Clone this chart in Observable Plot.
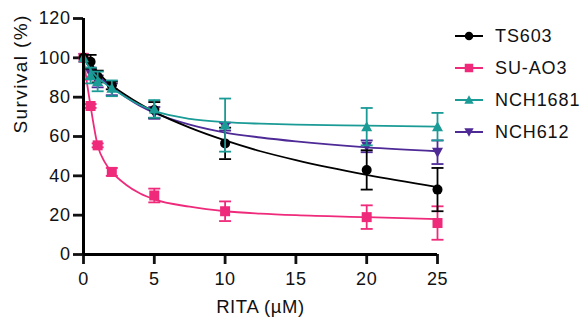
<!DOCTYPE html>
<html><head><meta charset="utf-8">
<script src="https://cdn.jsdelivr.net/npm/d3@7"></script>
<script src="https://cdn.jsdelivr.net/npm/@observablehq/plot@0.6"></script>
<style>
body{margin:0;background:#fff;font-family:"Liberation Sans",Arial,sans-serif}
#wrap{position:relative;width:579px;height:320px}
#legend{position:absolute;left:455px;top:20px}
.item{display:flex;align-items:center;height:32px;font-size:18px;letter-spacing:0.9px;color:#111}
.item svg{margin-right:12px}
</style></head><body><div id="wrap"><div id="legend"></div></div>
<script>
// doses (µM)
const doses = [0, 0.5, 1, 2, 5, 10, 20, 25];
const seriesNames = ["TS603", "SU-AO3", "NCH1681", "NCH612"];
const colors = ["#000000", "#ef2a7b", "#1b9b96", "#4e2a97"];
const symbolsName = ["circle", "square", "triangle", "triangleDown"];

// mean survival (%)
const meanTS603   = [100, 98, 90.5, 86, 73.5, 56.5, 43, 33];
const meanSUAO3   = [100, 75.5, 55.5, 42, 30, 22, 19, 16];
const meanNCH1681 = [100, 91, 88, 84.5, 74, 65.8, 65, 65];
const meanNCH612  = [100, 92, 88, 84, 72, 65, 55, 52];
// error (± SD)
const errTS603   = [0, 3.5, 3, 2, 4, 8, 10, 11];
const errSUAO3   = [0, 1, 1, 2, 3.5, 5, 6, 8.5];
const errNCH1681 = [0, 4, 5, 4, 4.5, 13.5, 9.5, 7];
const errNCH612  = [0, 3, 3, 3, 3, 2, 3, 6];

// fitted curves
const fitDoses   = [0, 0.25, 0.5, 1, 1.5, 2, 3, 4, 5, 7.5, 10, 12.5, 15, 20, 25];
const fitTS603   = [100, 99, 97, 93, 89, 86, 81, 76.5, 72.5, 64.5, 58, 52.5, 48, 40.5, 34.3];
const fitSUAO3   = [100, 87, 75.5, 55.5, 47, 42, 35.5, 31, 28, 24.3, 22, 20.8, 20, 19, 18];
const fitNCH1681 = [100, 97, 94, 90, 87, 84.5, 80, 76, 73, 69, 67.3, 66.5, 66, 65.5, 65];
const fitNCH612  = [100, 98, 95.5, 91, 88, 85, 80, 75.5, 72, 66, 62, 59.5, 57.5, 54.5, 52.5];

const xTicks = [0, 5, 10, 15, 20, 25];
const yTicks = [0, 20, 40, 60, 80, 100, 120];

const means = [meanTS603, meanSUAO3, meanNCH1681, meanNCH612];
const errs = [errTS603, errSUAO3, errNCH1681, errNCH612];
const fits = [fitTS603, fitSUAO3, fitNCH1681, fitNCH612];

const sym = {
  circle: {draw(c){ c.moveTo(5,0); c.arc(0,0,5,0,2*Math.PI); }},
  square: {draw(c){ c.rect(-5,-5,10,10); }},
  triangle: {draw(c){ c.moveTo(0,-5.5); c.lineTo(5.5,4.5); c.lineTo(-5.5,4.5); c.closePath(); }},
  triangleDown: {draw(c){ c.moveTo(0,5.5); c.lineTo(5.5,-4.5); c.lineTo(-5.5,-4.5); c.closePath(); }}
};
const cap = {draw(c){ c.moveTo(-6,0); c.lineTo(6,0); }};

const points = [], bars = [], curves = [];
seriesNames.forEach((s, i) => {
  doses.forEach((d, j) => {
    points.push({s, i, x: d, y: means[i][j]});
    if (errs[i][j] > 0) bars.push({s, i, x: d, lo: means[i][j] - errs[i][j], hi: means[i][j] + errs[i][j]});
  });
  fitDoses.forEach((d, j) => curves.push({s, i, x: d, y: fits[i][j]}));
});

const drawOrder = [3, 1, 0, 2];
const marks = [
  Plot.axisY({ticks: yTicks, tickSize: 10, tickPadding: 3, strokeWidth: 2.8, label: null, fontSize: 18}),
  Plot.axisX({ticks: xTicks, tickSize: 10, tickPadding: 8, strokeWidth: 2.8, label: null, fontSize: 18}),
];
drawOrder.forEach(i => {
  const c = colors[i];
  const b = bars.filter(d => d.i === i);
  marks.push(
    Plot.line(curves.filter(d => d.i === i), {x: "x", y: "y", stroke: c, strokeWidth: 1.8, curve: "monotone-x"}),
    Plot.ruleX(b, {x: "x", y1: "lo", y2: "hi", stroke: c, strokeWidth: 1.8}),
    Plot.dot(b, {x: "x", y: "lo", symbol: () => cap, r: 6, stroke: c, strokeWidth: 1.8, fill: "none"}),
    Plot.dot(b, {x: "x", y: "hi", symbol: () => cap, r: 6, stroke: c, strokeWidth: 1.8, fill: "none"}),
    Plot.dot(points.filter(d => d.i === i), {x: "x", y: "y", symbol: () => sym[symbolsName[i]], r: 5, fill: c, stroke: "none"})
  );
});
marks.push(
  Plot.ruleX([0], {y1: 0, y2: 120, strokeWidth: 3, stroke: "#000"}),
  Plot.ruleY([0], {x1: 0, x2: 25, strokeWidth: 3, stroke: "#000"}),
  Plot.text(["RITA (µM)"], {frameAnchor: "bottom", dy: 53, fontSize: 18.5, lineAnchor: "middle", fill: "#111"}),
  Plot.text(["Survival (%)"], {frameAnchor: "left", dx: -63, dy: -3, rotate: -90, fontSize: 19, lineAnchor: "middle", fill: "#111"})
);

const chart = Plot.plot({
  width: 579, height: 320,
  marginLeft: 83, marginRight: 142, marginTop: 18, marginBottom: 66,
  x: {domain: [0, 25]},
  y: {domain: [0, 120]},
  style: {fontFamily: '"Liberation Sans", Arial, sans-serif', fontSize: "18px", color: "#111", background: "#fff", overflow: "visible"},
  marks
});
chart.querySelectorAll("text").forEach(t => t.style.letterSpacing = "0.6px");
chart.querySelectorAll("text").forEach(t => { if (t.textContent === "Survival (%)") t.style.letterSpacing = "1.4px"; });
document.getElementById("wrap").prepend(chart);

const legend = document.getElementById("legend");
const ns = "http://www.w3.org/2000/svg";
seriesNames.forEach((s, i) => {
  const div = document.createElement("div");
  div.className = "item";
  const svg = document.createElementNS(ns, "svg");
  svg.setAttribute("width", 28); svg.setAttribute("height", 14);
  const ln = document.createElementNS(ns, "line");
  ln.setAttribute("x1", 0); ln.setAttribute("x2", 28); ln.setAttribute("y1", 7); ln.setAttribute("y2", 7);
  ln.setAttribute("stroke", colors[i]); ln.setAttribute("stroke-width", 2);
  svg.appendChild(ln);
  const p = d3.path(); sym[symbolsName[i]].draw(p);
  const pe = document.createElementNS(ns, "path");
  pe.setAttribute("d", p.toString()); pe.setAttribute("fill", colors[i]);
  pe.setAttribute("transform", "translate(14,7) scale(0.85)");
  svg.appendChild(pe);
  div.appendChild(svg);
  const span = document.createElement("span"); span.textContent = s;
  div.appendChild(span);
  legend.appendChild(div);
});
</script></body></html>
